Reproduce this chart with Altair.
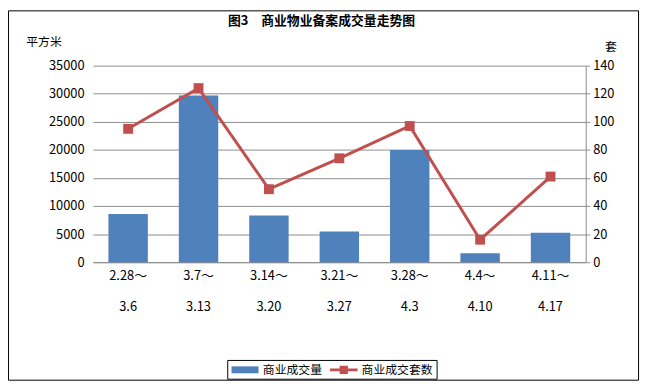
import altair as alt
import pandas as pd

# ---- data ----
categories = ["2.28～|3.6", "3.7～|3.13", "3.14～|3.20", "3.21～|3.27",
              "3.28～|4.3", "4.4～|4.10", "4.11～|4.17"]
area_values = [8600, 29700, 8300, 5450, 20000, 1600, 5250]   # 商业成交量 (平方米)
unit_values = [95, 124, 52, 74, 97, 16, 61]                   # 商业成交套数 (套)
series_names = ["商业成交量", "商业成交套数"]
left_ticks = [0, 5000, 10000, 15000, 20000, 25000, 30000, 35000]
right_ticks = [0, 20, 40, 60, 80, 100, 120, 140]

FONT = "Noto Sans CJK SC"
BLUE = "#4F81BD"
RED = "#C0504D"
GRID = "#8C8C8C"

bars_df = pd.DataFrame({"cat": categories, "value": area_values, "series": series_names[0]})
line_df = pd.DataFrame({"cat": categories, "value": unit_values, "series": series_names[1]})

x_enc = alt.X(
    "cat:N", sort=categories, title=None,
    scale=alt.Scale(paddingInner=0.44, paddingOuter=0.22),
    axis=alt.Axis(labelAngle=0, ticks=False, domain=True, domainColor=GRID,
                  labelExpr="split(datum.label, '|')", labelLineHeight=31,
                  labelPadding=8, labelFont=FONT, labelFontSize=13, labelColor="#000"),
)

color_scale = alt.Scale(domain=series_names, range=[BLUE, RED])
shape_scale = alt.Scale(
    domain=series_names,
    range=["M-1.95,-0.5H1.95V0.5H-1.95Z",
           "M-2,-0.2H2V0.2H-2Z M-0.6,-0.6H0.6V0.6H-0.6Z"],
)

right_axis = alt.Axis(orient="right", values=right_ticks, grid=False, format="d",
                      domain=True, domainColor=GRID, ticks=True, tickColor=GRID,
                      tickSize=4, labelPadding=3, labelFont=FONT, labelFontSize=13,
                      labelColor="#000", titleAngle=0, titleX=25, titleY=-19,
                      titleAlign="center", titleBaseline="middle", titleFont=FONT,
                      titleFontSize=12, titleFontWeight="normal")
right_scale = alt.Scale(domain=[0, 140])

frame = alt.Chart(pd.DataFrame({"k": [0]})).mark_rect(
    fill="white", fillOpacity=0, stroke="black", strokeWidth=1
).encode(x=alt.value(-85.5), x2=alt.value(552.5), y=alt.value(-55.5), y2=alt.value(318.5))

bars = alt.Chart(bars_df).mark_bar(color=BLUE).encode(
    x=x_enc,
    y=alt.Y("value:Q", title="平方米",
            scale=alt.Scale(domain=[0, 35000]),
            axis=alt.Axis(values=left_ticks, grid=True, gridColor=GRID, domain=False,
                          ticks=False, labelPadding=9, labelFont=FONT, labelFontSize=13,
                          format="d",
                          labelColor="#000", titleAngle=0, titleX=-50, titleY=-24,
                          titleAlign="center", titleBaseline="middle", titleFont=FONT,
                          titleFontSize=12, titleFontWeight="normal")),
    color=alt.Color("series:N", scale=color_scale, title=None),
)

line = alt.Chart(line_df).mark_line(color=RED, strokeWidth=3).encode(
    x=x_enc,
    y=alt.Y("value:Q", title="套", scale=right_scale, axis=right_axis),
)

points = alt.Chart(line_df).mark_point(filled=True, opacity=1, size=100, shape="square").encode(
    x=x_enc,
    y=alt.Y("value:Q", title="套", scale=right_scale, axis=right_axis),
    color=alt.Color("series:N", scale=color_scale, title=None),
)

# invisible marks that only carry the legend symbol shapes
legend_keys = alt.Chart(line_df).mark_point(filled=True, size=0).encode(
    x=x_enc,
    y=alt.Y("value:Q", title="套", scale=right_scale, axis=right_axis),
    color=alt.Color("series:N", scale=color_scale, title=None),
    shape=alt.Shape("series:N", scale=shape_scale, title=None),
)

right_layer = alt.layer(line, points, legend_keys)

chart = alt.layer(frame, bars, right_layer).resolve_scale(y="independent").properties(
    width=499, height=199,
    autosize=alt.AutoSizeParams(type="none"),
    padding={"left": 86, "top": 56, "right": 58, "bottom": 123},
    title=alt.TitleParams("图3　商业物业备案成交量走势图", fontSize=13, font=FONT,
                          fontWeight="bold", anchor="middle", dx=-18, dy=22),
).configure_view(stroke=None).configure_legend(
    orient="none", legendX=136, legendY=298, direction="horizontal",
    strokeColor="black", fillColor="white", padding=3,
    symbolSize=196, symbolStrokeWidth=0, symbolOffset=8, labelOffset=11,
    columnPadding=6, labelFont=FONT, labelFontSize=12, labelColor="#000",
).configure_axis(gridWidth=1)

chart.save("out.html", embed_options={"renderer": "svg", "actions": False})
